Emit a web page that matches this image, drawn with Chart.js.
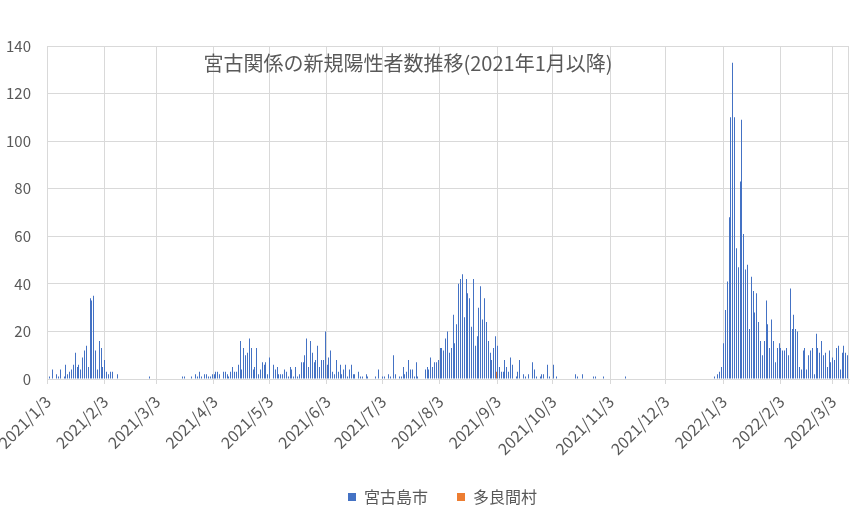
<!DOCTYPE html>
<html>
<head>
<meta charset="utf-8">
<script src="https://cdn.jsdelivr.net/npm/chart.js@4.4.1/dist/chart.umd.min.js"></script>
<style>
html,body{margin:0;padding:0;background:#ffffff;}
#wrap{width:864px;height:515px;position:relative;}
</style>
</head>
<body>
<div id="wrap"><canvas id="c" width="864" height="515"></canvas></div>
<script>
// ---- data ----
const titleText = '宮古関係の新規陽性者数推移(2021年1月以降)';
const seriesNames = ['宮古島市', '多良間村'];
const firstDay = '2021/1/3';
const dayCount = 433;
const tickLabels = ['2021/1/3','2021/2/3','2021/3/3','2021/4/3','2021/5/3','2021/6/3','2021/7/3',
  '2021/8/3','2021/9/3','2021/10/3','2021/11/3','2021/12/3','2022/1/3','2022/2/3','2022/3/3'];
const yTicks = [0, 20, 40, 60, 80, 100, 120, 140];
// 宮古島市 daily new cases, from 2021/1/3
const miyakojimaValues = [
  0,1,0,4,0,2,1,4,0,1,
  6,2,3,4,6,11,5,6,4,9,
  12,14,5,34,33,35,12,4,16,13,
  5,8,3,2,3,3,0,0,2,0,
  0,0,0,0,0,0,0,0,0,0,
  0,0,0,0,0,1,0,0,0,0,
  0,0,0,0,0,0,0,0,0,0,
  0,0,0,1,1,0,0,0,1,0,
  2,1,3,1,0,2,2,1,1,2,
  2,3,3,2,0,3,3,2,1,3,
  5,3,3,6,16,4,13,10,11,17,
  13,4,5,13,2,4,7,6,7,2,
  9,0,6,4,5,2,2,2,4,3,
  1,5,4,1,5,1,2,7,7,10,
  17,5,16,11,7,8,14,5,8,8,
  20,6,9,12,3,2,8,3,6,2,
  4,6,1,4,6,2,2,0,3,1,
  1,0,2,1,0,0,0,1,0,4,
  0,1,1,0,2,1,0,10,2,0,
  1,1,5,2,3,8,4,4,1,7,
  1,0,0,0,4,5,4,9,5,7,
  7,8,13,13,12,17,20,11,13,27,
  15,23,40,42,44,26,42,36,34,22,
  42,14,18,30,39,25,34,24,16,11,
  8,13,18,14,5,3,3,8,5,3,
  9,6,0,1,3,8,0,2,1,0,
  2,0,7,4,1,0,1,2,2,0,
  6,1,0,6,0,1,0,0,0,0,
  0,0,0,0,0,2,1,0,0,2,
  0,0,0,0,0,1,1,0,0,0,
  1,0,0,0,0,0,0,0,0,0,
  0,0,1,0,0,0,0,0,0,0,
  0,0,0,0,0,0,0,0,0,0,
  0,0,0,0,0,0,0,0,0,0,
  0,0,0,0,0,0,0,0,0,0,
  0,0,0,0,0,0,0,0,0,0,
  1,0,2,3,5,15,29,41,68,110,
  133,110,55,47,83,109,61,46,48,21,
  43,37,28,36,24,16,10,16,33,23,
  13,25,16,7,13,15,13,12,12,13,
  10,38,21,27,21,20,5,4,12,13,
  4,10,12,13,2,19,13,11,16,10,
  11,5,12,7,9,8,13,14,4,11,
  14,11,10
];
// 多良間村: only non-zero days
const taramaDates = ['2021/9/2'];
const taramaValues = [3];

// ---- build tables ----
const fp = firstDay.split('/').map(Number);
const categories = [];
for (let i = 0; i < dayCount; i++) {
  const d = new Date(fp[0], fp[1] - 1, fp[2] + i);
  categories.push(d.getFullYear() + '/' + (d.getMonth() + 1) + '/' + d.getDate());
}
const taramaSeries = categories.map(c => {
  const k = taramaDates.indexOf(c);
  return k >= 0 ? taramaValues[k] : null;
});
const isTick = i => tickLabels.includes(categories[i]);

const FONT = '"Noto Sans CJK JP", "Noto Sans", sans-serif';
const GRID = '#d9d9d9';
const TEXT = '#595959';

const overlayTitle = {
  id: 'overlayTitle',
  afterDraw(chart) {
    const ctx = chart.ctx;
    ctx.save();
    ctx.font = '20px ' + FONT;
    ctx.fillStyle = TEXT;
    ctx.textAlign = 'center';
    ctx.textBaseline = 'middle';
    ctx.fillText(titleText, 408, 63);
    ctx.restore();
  }
};
// snap library-computed bar positions to whole pixels (crisp 1px columns)
const snapBars = {
  id: 'snapBars',
  afterDatasetsUpdate(chart) {
    chart.data.datasets.forEach((ds, i) => {
      chart.getDatasetMeta(i).data.forEach(el => {
        el.x = Math.floor(el.x) + 0.5;
        el.width = 1;
      });
    });
  }
};
const legendShift = {
  id: 'legendShift',
  afterLayout(chart) {
    if (chart.legend) { chart.legend.left += 18; chart.legend.right += 18; }
  }
};

new Chart(document.getElementById('c'), {
  type: 'bar',
  data: {
    labels: categories,
    datasets: [
      { label: seriesNames[0], data: miyakojimaValues, backgroundColor: '#4472C4', borderWidth: 0, barThickness: 1, inflateAmount: 0 },
      { label: seriesNames[1], data: taramaSeries, backgroundColor: '#ED7D31', borderWidth: 0, barThickness: 1, inflateAmount: 0 }
    ]
  },
  options: {
    responsive: false,
    animation: false,
    devicePixelRatio: 1,
    layout: { padding: { left: 0, right: 15, top: 46, bottom: 0 } },
    plugins: {
      tooltip: { enabled: false },
      title: { display: false },
      legend: {
        position: 'bottom',
        labels: {
          boxWidth: 8, boxHeight: 8, padding: 29,
          color: TEXT,
          font: { family: FONT, size: 16 }
        }
      }
    },
    scales: {
      x: {
        type: 'category',
        offset: true,
        grid: {
          offset: true,
          drawTicks: true,
          tickLength: 5,
          color: ctx => (ctx.index === undefined || isTick(ctx.index)) ? GRID : 'rgba(0,0,0,0)',
          lineWidth: 1
        },
        border: { display: true, color: GRID },
        ticks: {
          autoSkip: false,
          minRotation: 45,
          maxRotation: 45,
          padding: 8,
          color: TEXT,
          font: { family: FONT, size: 16 },
          callback: function (v, i) { return isTick(i) ? categories[i] : ''; }
        },
        afterFit: s => { s.height = 81; s.paddingLeft = 0; s.paddingRight = 0; }
      },
      y: {
        min: 0,
        max: 140,
        afterBuildTicks: s => { s.ticks = yTicks.map(v => ({ value: v })); },
        grid: { color: GRID, drawTicks: false, lineWidth: 1 },
        border: { display: false },
        ticks: {
          padding: 16,
          color: TEXT,
          font: { family: FONT, size: 15 }
        },
        afterFit: s => { s.width = 47; }
      }
    }
  },
  plugins: [overlayTitle, snapBars, legendShift]
});
</script>
</body>
</html>
